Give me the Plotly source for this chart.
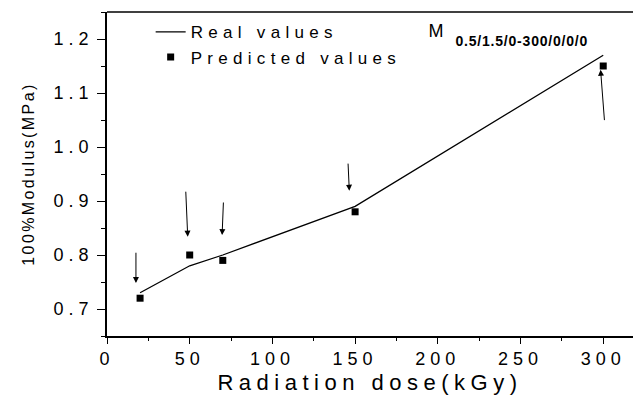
import plotly.graph_objects as go

# Data
dose_real = [20, 50, 70, 150, 300]
modulus_real = [0.73, 0.78, 0.80, 0.89, 1.17]
dose_pred = [20, 50, 70, 150, 300]
modulus_pred = [0.72, 0.80, 0.79, 0.88, 1.15]

# Arrow annotations: tail and head points (data units)
arrow_tail_x = [17.5, 47.6, 70.4, 145.7, 300.8]
arrow_tail_y = [0.807, 0.92, 0.90, 0.972, 1.047]
arrow_head_x = [17.5, 48.8, 69.6, 146.5, 298.4]
arrow_head_y = [0.748, 0.834, 0.837, 0.919, 1.143]

x_ticks = [0, 50, 100, 150, 200, 250, 300]
y_ticks = [0.7, 0.8, 0.9, 1.0, 1.1, 1.2]

FONT = "Liberation Sans, Arial, sans-serif"

fig = go.Figure()
fig.add_trace(go.Scatter(
    x=dose_real, y=modulus_real, mode="lines", name="Real values",
    line=dict(color="black", width=1.3),
))
fig.add_trace(go.Scatter(
    x=dose_pred, y=modulus_pred, mode="markers", name="Predicted values",
    marker=dict(symbol="square", size=7, color="black"),
))

for tx, ty, hx, hy in zip(arrow_tail_x, arrow_tail_y, arrow_head_x, arrow_head_y):
    fig.add_annotation(
        x=hx, y=hy, ax=tx, ay=ty, xref="x", yref="y", axref="x", ayref="y",
        text="", showarrow=True, arrowhead=2, arrowsize=1.2, arrowwidth=1,
        arrowcolor="black", standoff=0, startstandoff=0,
    )

fig.add_annotation(
    x=0.608, y=0.94, xref="paper", yref="paper", xanchor="left", yanchor="middle",
    text="M", showarrow=False,
    font=dict(family=FONT, size=18, color="black"),
)
fig.add_annotation(
    x=0.673, y=0.911, xref="paper", yref="paper", xanchor="left", yanchor="middle",
    text="<b>0.5/1.5/0-300/0/0/0</b>", showarrow=False,
    font=dict(family=FONT, size=14, color="black"),
)

# top frame line of the plot area
fig.add_shape(type="line", xref="paper", yref="paper", x0=0, x1=1, y0=1, y1=1,
              line=dict(color="black", width=1.5))

fig.update_layout(
    width=633, height=395,
    margin=dict(l=107, r=0, t=12, b=59),
    paper_bgcolor="white", plot_bgcolor="white",
    font=dict(family=FONT, color="black"),
    showlegend=True,
    legend=dict(
        orientation="h", entrywidth=330, entrywidthmode="pixels",
        x=0.083, y=0.993, xanchor="left", yanchor="top",
        bgcolor="rgba(0,0,0,0)", font=dict(family=FONT, size=17, color="black"),
    ),
    xaxis=dict(
        range=[0, 318], tickvals=x_ticks, ticks="outside", ticklen=6, tickwidth=1,
        tickcolor="black", showline=True, linecolor="black", linewidth=1.5,
        mirror=False, showgrid=False, zeroline=False,
        tickfont=dict(family=FONT, size=18, color="black"),
        minor=dict(dtick=25, ticks="outside", ticklen=3, tickcolor="black"),
        title=dict(text="Radiation dose(kGy)", font=dict(family=FONT, size=22, color="black"), standoff=6),
    ),
    yaxis=dict(
        range=[0.65, 1.25], tickvals=y_ticks, tickformat=".1f", ticks="outside", ticklen=8,
        tickwidth=1, tickcolor="black", showline=True, linecolor="black", linewidth=1.5,
        mirror=False, showgrid=False, zeroline=False, ticklabelstandoff=0,
        tickfont=dict(family=FONT, size=18, color="black"),
        minor=dict(dtick=0.05, ticks="outside", ticklen=4, tickcolor="black"),
        title=dict(text="100%Modulus(MPa)", font=dict(family=FONT, size=16, color="black"), standoff=30),
    ),
)

letter_spacing_js = (
    "var st=document.createElement('style');"
    "st.textContent='.xtick text,.ytick text{letter-spacing:5px}"
    ".xtitle{letter-spacing:5.5px}.ytitle{letter-spacing:2.4px}"
    ".legendtext{letter-spacing:5.3px}"
    ".annotation-text{letter-spacing:0.8px}';"
    "document.head.appendChild(st);"
)

fig.write_html("out.html", post_script=letter_spacing_js)
